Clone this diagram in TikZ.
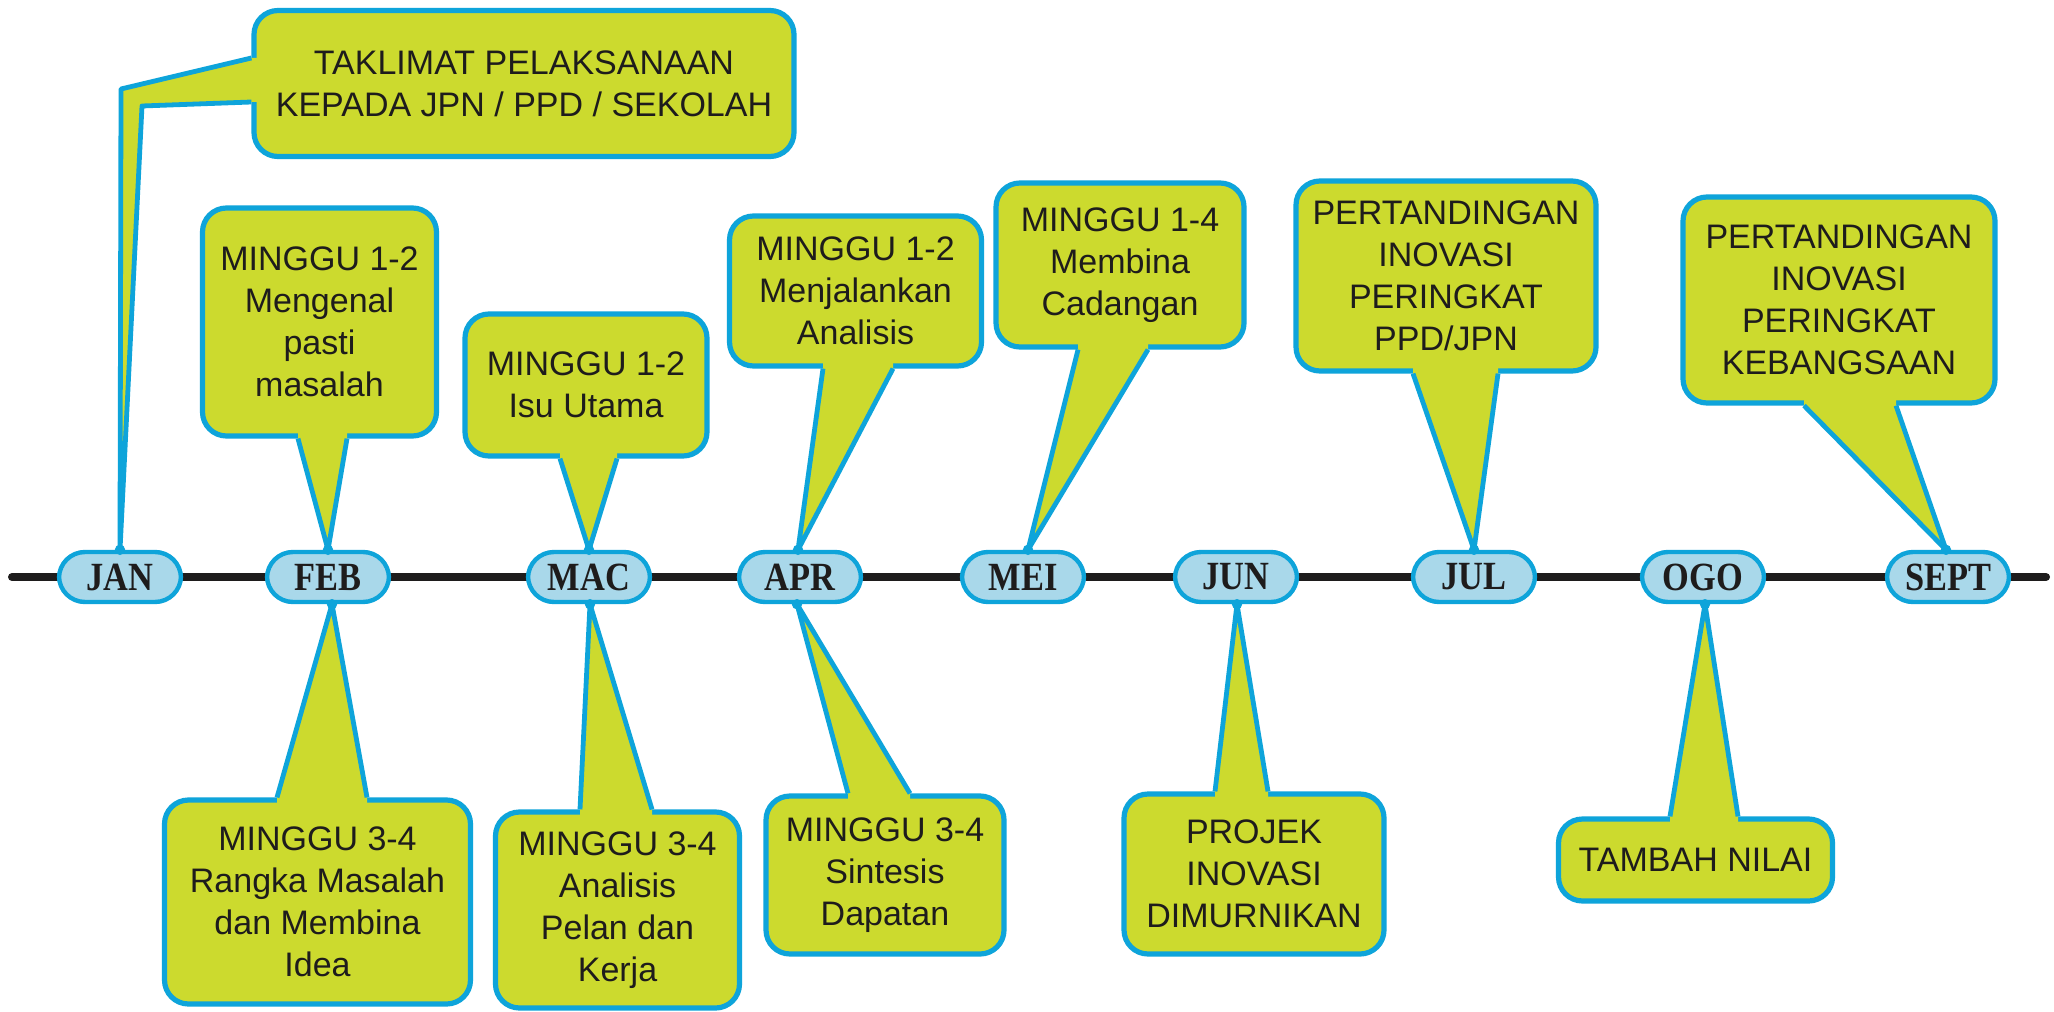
\documentclass[tikz,border=0pt]{standalone}
\usepackage{fontspec}
\usetikzlibrary{calc}
\newfontfamily\calloutfam{Liberation Sans}
\newfontfamily\pillfam{Liberation Serif}[FakeStretch=0.86]
\definecolor{calloutgreen}{RGB}{204,218,46}
\definecolor{bordercyan}{RGB}{14,164,218}
\definecolor{pillblue}{RGB}{169,216,234}
\definecolor{inkblack}{RGB}{30,28,28}
\tikzset{
  callout/.style={draw=bordercyan, fill=calloutgreen, line width=2.6pt, rounded corners=12pt,
    inner sep=0pt, align=center, text=inkblack, font={\calloutfam\fontsize{17}{21}\selectfont}},
  pill/.style={draw=bordercyan, fill=pillblue, line width=2.2pt, rounded corners=13pt,
    minimum width=61pt, minimum height=25pt, inner sep=0pt, text=inkblack,
    font={\pillfam\bfseries\fontsize{20}{24}\selectfont}},
  tailline/.style={draw=bordercyan, line width=2.4pt, line join=round},
  tailfill/.style={fill=calloutgreen},
  timeline/.style={draw=inkblack, line width=4pt, line cap=round},
  tipdot/.style={fill=bordercyan}
}
% tail below a box (box above the timeline): #1 box, #2 dx1, #3 dx2, #4 tip
\newcommand{\taildown}[4]{%
  \fill[tailfill] ($(#1.south)+(#2,-8)$) -- ($(#1.south)+(#2,0)$) -- (#4) -- ($(#1.south)+(#3,0)$) -- ($(#1.south)+(#3,-8)$) -- cycle;
  \draw[tailline] ($(#1.south)+(#2,0)$) -- (#4) -- ($(#1.south)+(#3,0)$);
  \fill[tipdot] (#4) circle (2.6pt);
}
% tail above a box (box below the timeline)
\newcommand{\tailup}[4]{%
  \fill[tailfill] ($(#1.north)+(#2,8)$) -- ($(#1.north)+(#2,0)$) -- (#4) -- ($(#1.north)+(#3,0)$) -- ($(#1.north)+(#3,8)$) -- cycle;
  \draw[tailline] ($(#1.north)+(#2,0)$) -- (#4) -- ($(#1.north)+(#3,0)$);
  \fill[tipdot] (#4) circle (2.6pt);
}
\begin{document}
\begin{tikzpicture}[x=0.5pt,y=-0.5pt]
\useasboundingbox (0,0) rectangle (2054,1011);
\fill[white] (0,0) rectangle (2054,1011);

% timeline
\coordinate (tl) at (12,577);
\coordinate (tr) at (2046,577);
\draw[timeline] (tl) -- (tr);

% months
\node[pill] (jan) at (120,577) {JAN};
\node[pill] (feb) at (328,577) {FEB};
\node[pill] (mac) at (589,577) {MAC};
\node[pill] (apr) at (800,577) {APR};
\node[pill] (mei) at (1023,577) {MEI};
\node[pill] (jun) at (1236,577) {JUN};
\node[pill] (jul) at (1474,577) {JUL};
\node[pill] (ogo) at (1703,577) {OGO};
\node[pill] (sept) at (1948,577) {SEPT};

% callouts above
\node[callout, minimum width=270pt, minimum height=73pt] (tak) at (524,83.5)
  {TAKLIMAT PELAKSANAAN\\KEPADA JPN / PPD / SEKOLAH};
\node[callout, minimum width=117pt, minimum height=114pt] (fbt) at (319.5,322)
  {MINGGU 1-2\\Mengenal\\pasti\\masalah};
\node[callout, minimum width=121pt, minimum height=71pt] (mct) at (586,385)
  {MINGGU 1-2\\Isu Utama};
\node[callout, minimum width=126pt, minimum height=75pt] (apt) at (855.5,291)
  {MINGGU 1-2\\Menjalankan\\Analisis};
\node[callout, minimum width=124pt, minimum height=82pt] (met) at (1120,265)
  {MINGGU 1-4\\Membina\\Cadangan};
\node[callout, minimum width=150pt, minimum height=95pt] (jut) at (1446,276)
  {PERTANDINGAN\\INOVASI\\PERINGKAT\\PPD/JPN};
\node[callout, minimum width=156pt, minimum height=103pt] (sep) at (1839,300)
  {PERTANDINGAN\\INOVASI\\PERINGKAT\\KEBANGSAAN};

% callouts below
\node[callout, minimum width=153pt, minimum height=102pt] (fbb) at (317.5,902)
  {MINGGU 3-4\\Rangka Masalah\\dan Membina\\Idea};
\node[callout, minimum width=122pt, minimum height=98pt] (mcb) at (617.5,910)
  {MINGGU 3-4\\Analisis\\Pelan dan\\Kerja};
\node[callout, minimum width=119pt, minimum height=79pt] (apb) at (885,875)
  {MINGGU 3-4\\Sintesis\\Dapatan};
\node[callout, minimum width=130pt, minimum height=80pt] (jub) at (1254,874)
  {PROJEK\\INOVASI\\DIMURNIKAN};
\node[callout, minimum width=137pt, minimum height=41pt] (ogb) at (1695.5,860)
  {TAMBAH NILAI};

% tail of the briefing box
\coordinate (takbendA) at (121,89);
\coordinate (takbendB) at (142,106);
\fill[tailfill] ($(tak.west)+(8,-25.5)$) -- ($(tak.west)+(0,-25.5)$) -- (takbendA) -- (jan.north)
  -- (takbendB) -- ($(tak.west)+(0,18.5)$) -- ($(tak.west)+(8,18.5)$) -- cycle;
\draw[tailline] ($(tak.west)+(0,-25.5)$) -- (takbendA) -- (jan.north) -- (takbendB) -- ($(tak.west)+(0,18.5)$);
\fill[tipdot] (jan.north) circle (2.6pt);

% tails above timeline
\taildown{fbt}{-21.5}{27.5}{feb.north}
\taildown{mct}{-26}{31}{mac.north}
\taildown{apt}{-32.5}{37.5}{$(apr.north)+(-2,0)$}
\taildown{met}{-42}{28}{$(mei.north)+(5,0)$}
\taildown{jut}{-33}{52}{jul.north}
\taildown{sep}{-35}{57}{$(sept.north)+(-2,0)$}

% tails below timeline
\tailup{fbb}{-40.5}{49.5}{$(feb.south)+(4,0)$}
\tailup{mcb}{-37.5}{34.5}{$(mac.south)+(1,0)$}
\tailup{apb}{-37}{25}{$(apr.south)+(-3,0)$}
\tailup{jub}{-39}{14}{$(jun.south)+(1,0)$}
\tailup{ogb}{-25.5}{42.5}{$(ogo.south)+(2,0)$}
\end{tikzpicture}
\end{document}
